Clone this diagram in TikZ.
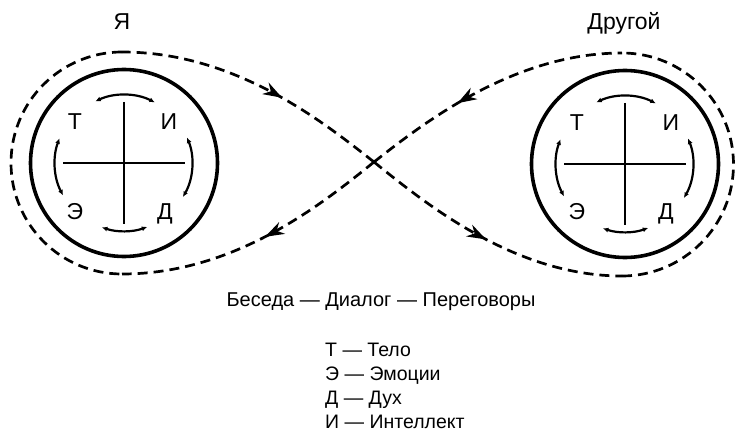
\documentclass[tikz,border=0pt]{standalone}
\usepackage{fontspec}
\setmainfont{Liberation Sans}
\usetikzlibrary{arrows.meta,decorations.markings}
\begin{document}
\begin{tikzpicture}[x=1pt,y=-1pt,
  loopline/.style={line width=2.7pt, dash pattern=on 10pt off 6pt},
  ring/.style={circle, draw, line width=3.6pt, minimum size=187pt, inner sep=0pt},
  axis/.style={line width=2.7pt},
  flow/.style={line width=2.2pt, {Latex[length=5.5pt,width=5pt]}-{Latex[length=5.5pt,width=5pt]}},
  bigtip/.style={Stealth[length=19pt,width=13pt,inset=6pt]},
  fwdarrow/.style={postaction={decorate}, decoration={markings, mark=at position #1 with {\arrow[solid]{Stealth[length=19pt,width=13pt,inset=6pt]}}}},
  revarrow/.style={postaction={decorate}, decoration={markings, mark=at position #1 with {\arrowreversed[solid]{Stealth[length=19pt,width=13pt,inset=6pt]}}}},
  lbl/.style={font=\fontsize{23}{23}\selectfont, anchor=base, inner sep=0pt},
  ttl/.style={font=\fontsize{23}{23}\selectfont, anchor=base, inner sep=0pt},
  talkstyle/.style={font=\fontsize{20}{20}\selectfont, anchor=base, inner sep=0pt},
  leg/.style={font=\fontsize{19.5}{19.5}\selectfont, anchor=base west, inner sep=0pt},
]
\useasboundingbox (0,0) rectangle (739,433);

% titles
\node[ttl] (me) at (122,30) {Я};
\node[ttl] (other) at (624,30) {Другой};

% circles
\node[ring] (L) at (124,163) {};
\node[ring] (R) at (625,164) {};

% crosses and small double arrows
\foreach \c in {L,R}{
  \draw[axis] ([xshift=-61pt]\c.center) -- ([xshift=61pt]\c.center);
  \draw[axis] ([yshift=61pt]\c.center) -- ([yshift=-61pt]\c.center);
  \draw[flow] (\c.center) ++(245:68) arc[start angle=245, end angle=297, radius=68];
  \draw[flow] (\c.center) ++(152:69) arc[start angle=152, end angle=201, radius=69];
  \draw[flow] (\c.center) ++(-22:68) arc[start angle=-22, end angle=30, radius=68];
  \draw[flow] (\c.center) ++(70:68) arc[start angle=70, end angle=109, radius=68];
}

% letters
\node[lbl] (LT) at ([xshift=-49pt,yshift=33pt]L.center) {Т};
\node[lbl] (LI) at ([xshift=45pt,yshift=33pt]L.center) {И};
\node[lbl] (LE) at ([xshift=-49pt,yshift=-56pt]L.center) {Э};
\node[lbl] (LD) at ([xshift=41pt,yshift=-56pt]L.center) {Д};
\node[lbl] (RT) at ([xshift=-48pt,yshift=33pt]R.center) {Т};
\node[lbl] (RI) at ([xshift=46pt,yshift=33pt]R.center) {И};
\node[lbl] (RE) at ([xshift=-48pt,yshift=-55pt]R.center) {Э};
\node[lbl] (RD) at ([xshift=41pt,yshift=-55pt]R.center) {Д};

% figure-eight dashed loop
\coordinate (X) at (374,162);
\coordinate (TL) at (122,52);
\coordinate (BL) at (122,274);
\coordinate (TR) at (622,53);
\coordinate (BR) at (622,276);
\draw[loopline, revarrow=0.40] (X) .. controls (322,121) and (235,52) .. (TL);
\draw[loopline, fwdarrow=0.47] (X) .. controls (322,204) and (235,274) .. (BL);
\draw[loopline, revarrow=0.37] (X) .. controls (426,121) and (515,53) .. (TR);
\draw[loopline, fwdarrow=0.49] (X) .. controls (426,204) and (515,276) .. (BR);
\draw[loopline] (TL) arc[start angle=270, end angle=90, radius=111];
\draw[loopline] (BR) arc[start angle=90, end angle=-90, radius=111.5];

% texts
\node[talkstyle] (talk) at (381,306) {Беседа — Диалог — Переговоры};
\node[leg] (legT) at (325,356.5) {Т — Тело};
\node[leg] (legE) at (325,380.5) {Э — Эмоции};
\node[leg] (legD) at (325,404.5) {Д — Дух};
\node[leg] (legI) at (325,428.5) {И — Интеллект};
\end{tikzpicture}
\end{document}
